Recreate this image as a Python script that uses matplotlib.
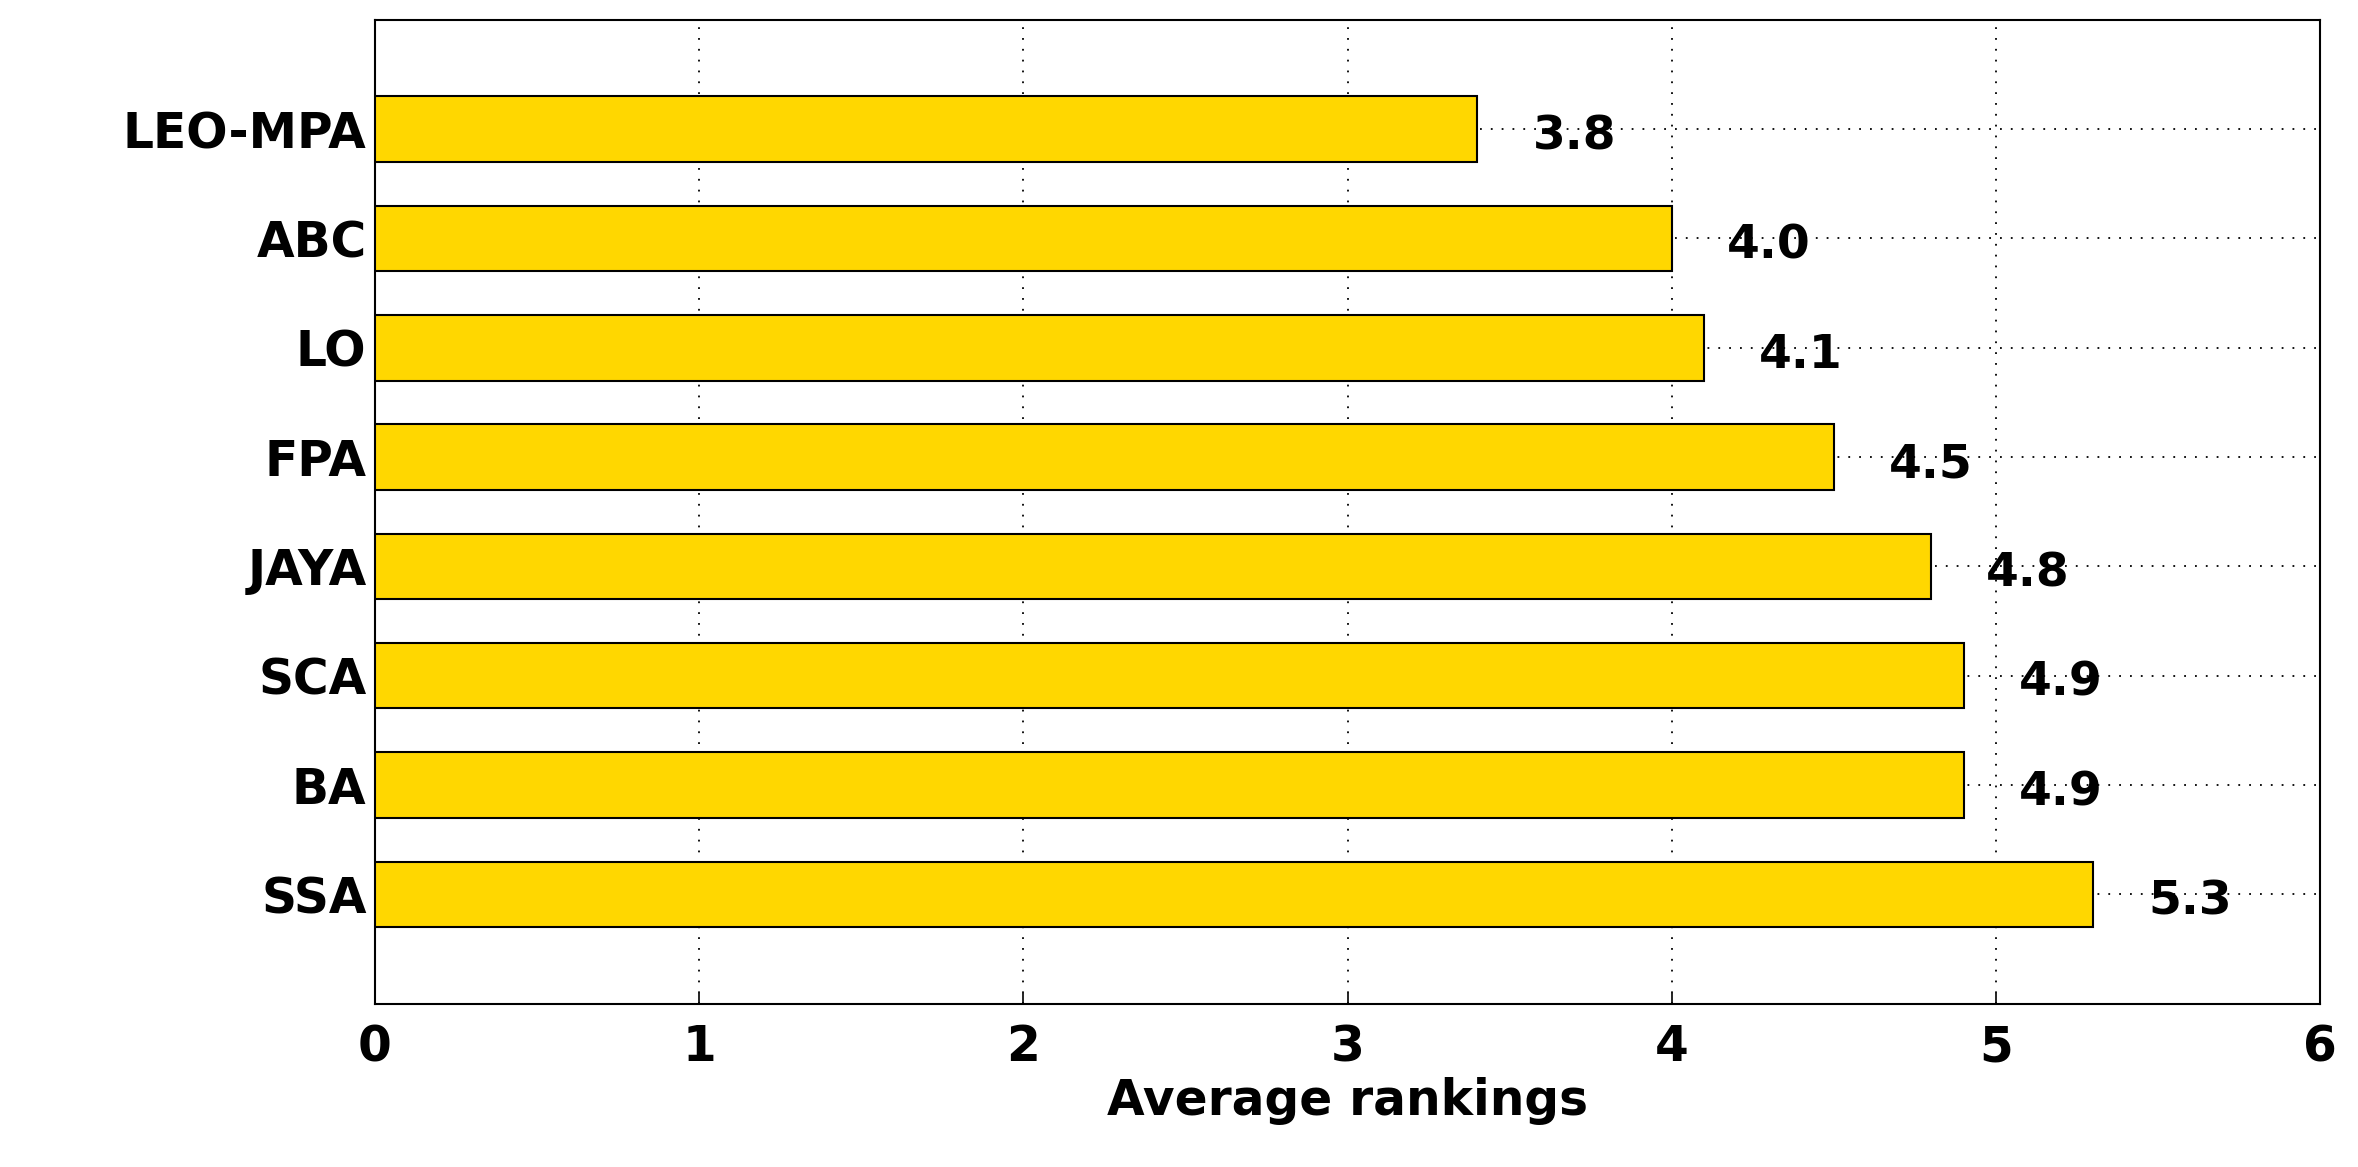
import matplotlib
matplotlib.use("Agg")
import matplotlib.pyplot as plt

categories = ["LEO-MPA", "ABC", "LO", "FPA", "JAYA", "SCA", "BA", "SSA"]
bar_values = [3.4, 4.0, 4.1, 4.5, 4.8, 4.9, 4.9, 5.3]
value_labels = ["3.8", "4.0", "4.1", "4.5", "4.8", "4.9", "4.9", "5.3"]
xticks = [0, 1, 2, 3, 4, 5, 6]

plt.rcParams['font.family'] = ['DejaVu Sans']
plt.rcParams['font.weight'] = 'bold'
fig = plt.figure(figsize=(23.58, 11.67), dpi=100)
ax = fig.add_axes([0.159, 0.14, 0.825, 0.843])
pos = list(range(1, len(categories) + 1))
ax.barh(pos, bar_values, height=0.6, color="#FFD700", edgecolor="black", linewidth=1.5, zorder=3)
for p, v, t in zip(pos, bar_values, value_labels):
    ax.text(v + 0.17, p + 0.07, t, va="center", ha="left", fontsize=34, fontweight="bold", zorder=4)
ax.set_xlim(0, 6)
ax.set_ylim(9, 0)
ax.set_xticks(xticks)
ax.set_yticks(pos)
ax.set_yticklabels(categories)
ax.tick_params(labelsize=35, direction="in", length=8, width=1.2)
ax.tick_params(axis="x", pad=14)
ax.tick_params(axis="y", pad=6)
for lab in ax.get_xticklabels() + ax.get_yticklabels():
    lab.set_fontweight("bold")
ax.grid(True, linestyle=(0, (1, 5)), color="black", linewidth=1.3, zorder=0)
ax.set_axisbelow(True)
for s in ax.spines.values():
    s.set_linewidth(1.5)
ax.set_xlabel("Average rankings", fontsize=35, fontweight="bold", labelpad=4)
fig.savefig("out.png", dpi=100)
